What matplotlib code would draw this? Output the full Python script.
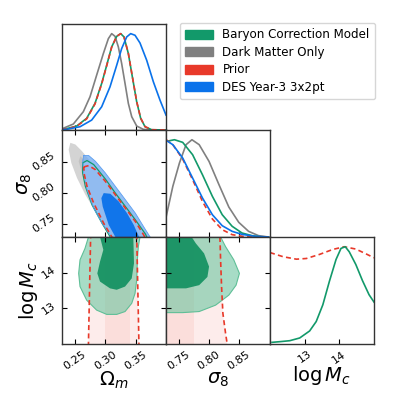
import matplotlib.pyplot as plt
from matplotlib.patches import Patch

# legend labels and colours
labels = ["Baryon Correction Model", "Dark Matter Only", "Prior", "DES Year-3 3x2pt"]
c_green, c_gray, c_red, c_blue = "#12996a", "#808080", "#e8392a", "#0a72ea"

# axis ranges / ticks
om_lim = (0.2293, 0.3989)
s8_lim = (0.7290, 0.9010)
mc_lim = (12.0, 15.0)
om_ticks = [0.25, 0.30, 0.35]
om_ticklabels = ["0.25", "0.30", "0.35"]
s8_ticks = [0.75, 0.80, 0.85]
s8_ticklabels = ["0.75", "0.80", "0.85"]
mc_ticks = [13, 14]
mc_ticklabels = ["13", "14"]

# 1D marginals: Omega_m
om_x_gray = [0.2298, 0.2478, 0.2641, 0.2750, 0.2858, 0.2967, 0.3049, 0.3103, 0.3158, 0.3212,
             0.3266, 0.3321, 0.3375, 0.3430, 0.3511, 0.3620, 0.3783, 0.3989]
om_p_gray = [0.014, 0.062, 0.190, 0.345, 0.569, 0.793, 0.948, 1.000, 0.972, 0.862,
             0.690, 0.483, 0.276, 0.138, 0.041, 0.007, 0.0, 0.0]
om_x_green = [0.2293, 0.2369, 0.2532, 0.2695, 0.2831, 0.2940, 0.3022, 0.3103, 0.3185, 0.3250,
              0.3304, 0.3375, 0.3440, 0.3511, 0.3576, 0.3647, 0.3755, 0.3989]
om_p_green = [0.008, 0.014, 0.041, 0.121, 0.276, 0.483, 0.672, 0.862, 0.972, 1.000,
              0.966, 0.793, 0.552, 0.293, 0.121, 0.034, 0.003, 0.0]
om_x_red = [0.2293, 0.2369, 0.2532, 0.2695, 0.2831, 0.2940, 0.3022, 0.3103, 0.3185, 0.3250,
            0.3304, 0.3375, 0.3440, 0.3511, 0.3576, 0.3647, 0.3755, 0.3989]
om_p_red = [0.006, 0.012, 0.038, 0.115, 0.270, 0.478, 0.668, 0.860, 0.972, 1.000,
            0.966, 0.795, 0.556, 0.296, 0.123, 0.035, 0.003, 0.0]
om_x_blue = [0.2293, 0.2369, 0.2587, 0.2777, 0.2940, 0.3076, 0.3185, 0.3266, 0.3348, 0.3413,
             0.3484, 0.3565, 0.3674, 0.3783, 0.3891, 0.3989]
om_p_blue = [0.004, 0.007, 0.034, 0.103, 0.241, 0.448, 0.672, 0.845, 0.966, 1.000,
             0.983, 0.903, 0.724, 0.500, 0.310, 0.155]

# 1D marginals: sigma_8
s8_x_gray = [0.7294, 0.7403, 0.7512, 0.7621, 0.7719, 0.7839, 0.8002, 0.8166, 0.8329, 0.8493,
             0.8656, 0.8820, 0.8983]
s8_p_gray = [0.212, 0.521, 0.760, 0.949, 1.000, 0.949, 0.777, 0.538, 0.308, 0.151,
             0.058, 0.014, 0.0]
s8_x_green = [0.7294, 0.7430, 0.7566, 0.7730, 0.7893, 0.8057, 0.8220, 0.8384, 0.8547, 0.8711,
              0.8874, 0.8983]
s8_p_green = [0.983, 1.000, 0.973, 0.846, 0.640, 0.418, 0.229, 0.110, 0.041, 0.014, 0.0, 0.0]
s8_x_blue = [0.7294, 0.7403, 0.7566, 0.7730, 0.7893, 0.8057, 0.8220, 0.8384, 0.8547, 0.8765,
             0.8983]
s8_p_blue = [0.993, 0.949, 0.812, 0.606, 0.401, 0.229, 0.116, 0.058, 0.027, 0.007, 0.0]
s8_x_red = [0.7294, 0.7403, 0.7566, 0.7730, 0.7893, 0.8057, 0.8220, 0.8384, 0.8602, 0.8983]
s8_p_red = [1.000, 0.949, 0.801, 0.589, 0.366, 0.185, 0.075, 0.024, 0.003, 0.0]

# 1D marginals: log M_c
mc_x_green = [12.057, 12.286, 12.571, 12.857, 13.143, 13.333, 13.524, 13.714, 13.905, 14.048,
              14.171, 14.286, 14.476, 14.667, 14.857, 15.0]
mc_p_green = [0.017, 0.024, 0.034, 0.062, 0.134, 0.231, 0.403, 0.645, 0.869, 0.983,
              1.000, 0.948, 0.817, 0.652, 0.507, 0.431]
mc_x_red = [12.0, 12.381, 12.762, 13.048, 13.429, 13.810, 14.143, 14.476, 14.762, 15.0]
mc_p_red = [0.940, 0.897, 0.872, 0.879, 0.921, 0.972, 1.000, 0.976, 0.928, 0.886]

# 2D contours Omega_m - sigma_8 (outline points)
os_gray_out = [(0.2429, 0.8804), (0.2511, 0.8777), (0.2619, 0.8670), (0.2755, 0.8508), (0.2919, 0.8292),
               (0.3110, 0.8050), (0.3300, 0.7807), (0.3490, 0.7565), (0.3653, 0.7349), (0.3718, 0.7241),
               (0.3163, 0.7241), (0.3000, 0.7457), (0.2837, 0.7700), (0.2674, 0.7969), (0.2538, 0.8238),
               (0.2445, 0.8481), (0.2402, 0.8697)]
os_gray_in = [(0.2592, 0.8589), (0.2783, 0.8400), (0.3055, 0.8050), (0.3327, 0.7700), (0.3517, 0.7403),
              (0.3571, 0.7241), (0.3245, 0.7241), (0.3000, 0.7565), (0.2783, 0.7942), (0.2619, 0.8319),
              (0.2565, 0.8508)]
os_green_out = [(0.2630, 0.8481), (0.2701, 0.8519), (0.2810, 0.8454), (0.3000, 0.8222), (0.3163, 0.7996),
                (0.3327, 0.7780), (0.3490, 0.7565), (0.3653, 0.7338), (0.3697, 0.7241), (0.3109, 0.7241),
                (0.2946, 0.7511), (0.2783, 0.7807), (0.2674, 0.8104), (0.2630, 0.8319)]
os_red_out = [(0.2647, 0.8416), (0.2728, 0.8438), (0.2837, 0.8373), (0.3000, 0.8185), (0.3163, 0.7969),
              (0.3327, 0.7753), (0.3490, 0.7538), (0.3626, 0.7322), (0.3664, 0.7241), (0.3136, 0.7241),
              (0.2973, 0.7511), (0.2810, 0.7834), (0.2701, 0.8104), (0.2657, 0.8292)]
os_blue_out = [(0.2647, 0.8600), (0.2728, 0.8600), (0.2837, 0.8508), (0.3000, 0.8319), (0.3163, 0.8104),
               (0.3327, 0.7888), (0.3490, 0.7672), (0.3653, 0.7410), (0.3762, 0.7241), (0.3136, 0.7241),
               (0.2946, 0.7511), (0.2810, 0.7753), (0.2701, 0.8050), (0.2647, 0.8319), (0.2630, 0.8508)]
os_blue_in = [(0.2973, 0.7996), (0.3082, 0.7985), (0.3218, 0.7861), (0.3354, 0.7672), (0.3463, 0.7484),
              (0.3571, 0.7241), (0.3191, 0.7241), (0.3055, 0.7484), (0.2957, 0.7780), (0.2935, 0.7915)]

# 2D contours Omega_m - log M_c
om_green_out = [(0.2723, 15.1), (0.2723, 14.99), (0.2668, 14.68), (0.2587, 14.36), (0.2565, 13.98),
                (0.2587, 13.61), (0.2695, 13.23), (0.2858, 12.95), (0.3022, 12.83), (0.3185, 12.83),
                (0.3321, 12.91), (0.3430, 13.14), (0.3484, 13.42), (0.3511, 13.79), (0.3522, 14.36),
                (0.3538, 14.73), (0.3565, 15.0), (0.3565, 15.1)]
om_green_in = [(0.2913, 15.1), (0.2913, 15.0), (0.2967, 14.64), (0.2913, 14.31), (0.2869, 13.98),
               (0.2913, 13.75), (0.3076, 13.56), (0.3185, 13.52), (0.3321, 13.61), (0.3430, 13.84),
               (0.3467, 14.26), (0.3456, 15.0), (0.3456, 15.1)]
om_red_out = [(0.2761, 15.1), (0.2723, 11.9), (0.3549, 11.9), (0.3511, 15.1)]
om_red_in = [(0.2994, 15.1), (0.2994, 11.9), (0.3402, 11.9), (0.3402, 15.1)]

# 2D contours sigma_8 - log M_c
sm_green_out = [(0.72, 15.1), (0.8193, 15.1), (0.8193, 15.0), (0.8275, 14.73), (0.8411, 14.36),
                (0.8504, 13.98), (0.8449, 13.65), (0.8329, 13.37), (0.8111, 13.09), (0.7839, 12.91),
                (0.7566, 12.88), (0.72, 12.88)]
sm_green_in = [(0.72, 15.1), (0.7675, 15.1), (0.7784, 14.82), (0.7920, 14.54), (0.8002, 14.17),
               (0.7975, 13.88), (0.7839, 13.65), (0.7621, 13.56), (0.72, 13.56)]
sm_red_out = [(0.72, 15.1), (0.8182, 15.1), (0.8182, 15.0), (0.8193, 14.36), (0.8209, 13.61),
              (0.8231, 12.86), (0.8275, 12.30), (0.8302, 12.0), (0.8310, 11.9), (0.72, 11.9)]
sm_red_in = [(0.72, 15.1), (0.7757, 15.1), (0.7757, 11.9), (0.72, 11.9)]


def xy(pts):
    return [p[0] for p in pts], [p[1] for p in pts]


def contour(ax, pts, face, edge=None, ls="-", lw=0.8, alpha=1.0):
    x, y = xy(pts)
    ax.fill(x, y, color=face, lw=0, alpha=alpha)
    if edge is not None:
        ax.plot(x + [x[0]], y + [y[0]], color=edge, ls=ls, lw=lw)


fig = plt.figure(figsize=(3.99, 3.99), dpi=100)
L = [62 / 399, 166 / 399, 270 / 399]
B = [1 - 130 / 399, 1 - 237 / 399, 1 - 344 / 399]
W = 104 / 399
H = [106 / 399, 107 / 399, 107 / 399]

ax_om = fig.add_axes([L[0], B[0], W, H[0]])
ax_os = fig.add_axes([L[0], B[1], W, H[1]])
ax_s8 = fig.add_axes([L[1], B[1], W, H[1]])
ax_om_mc = fig.add_axes([L[0], B[2], W, H[2]])
ax_s8_mc = fig.add_axes([L[1], B[2], W, H[2]])
ax_mc = fig.add_axes([L[2], B[2], W, H[2]])

# 1D panels
ax_om.plot(om_x_gray, om_p_gray, color=c_gray, lw=1.2)
ax_om.plot(om_x_green, om_p_green, color=c_green, lw=1.2)
ax_om.plot(om_x_red, om_p_red, color=c_red, lw=1.2, ls=(0, (3, 2)))
ax_om.plot(om_x_blue, om_p_blue, color=c_blue, lw=1.2)
ax_om.set_xlim(om_lim)

ax_s8.plot(s8_x_gray, s8_p_gray, color=c_gray, lw=1.2)
ax_s8.plot(s8_x_green, s8_p_green, color=c_green, lw=1.2)
ax_s8.plot(s8_x_red, s8_p_red, color=c_red, lw=1.2, ls=(0, (3, 2)))
ax_s8.plot(s8_x_blue, s8_p_blue, color=c_blue, lw=1.2)
ax_s8.set_xlim(s8_lim)

ax_mc.plot(mc_x_red, mc_p_red, color=c_red, lw=1.2, ls=(0, (3, 2)))
ax_mc.plot(mc_x_green, mc_p_green, color=c_green, lw=1.2)
ax_mc.set_xlim(mc_lim)

for ax in [ax_om, ax_s8, ax_mc]:
    ax.set_ylim(0, 1.1)
    ax.set_yticks([])

# Omega_m - sigma_8
contour(ax_os, os_gray_out, "#d4d4d4")
contour(ax_os, os_gray_in, "#c2c2c2")
contour(ax_os, os_green_out, "#ffffff", edge=c_green, lw=0.9)
contour(ax_os, os_red_out, "#fbe3e0", alpha=0.6)
contour(ax_os, os_blue_out, "#6eaaf2", edge="#5c9ef0", alpha=0.75, lw=0.6)
contour(ax_os, os_blue_in, c_blue, alpha=0.95)
x, y = xy(os_red_out)
ax_os.plot(x + [x[0]], y + [y[0]], color=c_red, ls=(0, (3, 2)), lw=1.2)
ax_os.set_xlim(om_lim)
ax_os.set_ylim(s8_lim)

# Omega_m - log M_c
contour(ax_om_mc, om_red_out, "#fdeceb")
contour(ax_om_mc, om_red_in, "#fbdedb")
contour(ax_om_mc, om_green_out, "#6cc6a0", edge="#5fbf97", alpha=0.6, lw=0.8)
contour(ax_om_mc, om_green_in, "#0f8f5e", alpha=0.9)
ax_om_mc.plot([om_red_out[0][0], om_red_out[1][0]], [om_red_out[0][1], om_red_out[1][1]],
              color=c_red, ls=(0, (3, 2)), lw=1.2)
ax_om_mc.plot([om_red_out[2][0], om_red_out[3][0]], [om_red_out[2][1], om_red_out[3][1]],
              color=c_red, ls=(0, (3, 2)), lw=1.2)
ax_om_mc.set_xlim(om_lim)
ax_om_mc.set_ylim(mc_lim)

# sigma_8 - log M_c
contour(ax_s8_mc, sm_red_out, "#fdeceb")
contour(ax_s8_mc, sm_red_in, "#fbdedb")
contour(ax_s8_mc, sm_green_out, "#6cc6a0", edge="#5fbf97", alpha=0.6, lw=0.8)
contour(ax_s8_mc, sm_green_in, "#0f8f5e", alpha=0.9)
x, y = xy(sm_red_out[2:9])
ax_s8_mc.plot(x, y, color=c_red, ls=(0, (3, 2)), lw=1.2)
ax_s8_mc.set_xlim(s8_lim)
ax_s8_mc.set_ylim(mc_lim)

# ticks
for ax in [ax_os, ax_om_mc, ax_s8_mc]:
    ax.tick_params(direction="in", top=True, right=True, length=3.5, width=0.8, labelsize=8)
for ax in [ax_om, ax_s8, ax_mc]:
    ax.tick_params(direction="in", length=3.5, width=0.8, labelsize=8)

for ax in [ax_om, ax_os, ax_om_mc]:
    ax.set_xticks(om_ticks)
for ax in [ax_s8, ax_s8_mc]:
    ax.set_xticks(s8_ticks)
ax_mc.set_xticks(mc_ticks)
ax_os.set_yticks(s8_ticks)
ax_om_mc.set_yticks(mc_ticks)
ax_s8_mc.set_yticks(mc_ticks)

for ax in [ax_om, ax_os, ax_s8]:
    ax.set_xticklabels([])
ax_s8_mc.set_yticklabels([])

ax_om_mc.set_xticklabels(om_ticklabels, rotation=35)
ax_s8_mc.set_xticklabels(s8_ticklabels, rotation=35)
ax_mc.set_xticklabels(mc_ticklabels, rotation=35)
ax_os.set_yticklabels(s8_ticklabels, rotation=35, va="center")
ax_om_mc.set_yticklabels(mc_ticklabels, rotation=35, va="center")

ax_om_mc.set_xlabel(r"$\Omega_m$", fontsize=14, labelpad=-1)
ax_s8_mc.set_xlabel(r"$\sigma_8$", fontsize=14, labelpad=-1)
ax_mc.set_xlabel(r"$\log M_c$", fontsize=14, labelpad=-1)
ax_os.set_ylabel(r"$\sigma_8$", fontsize=14, labelpad=-2)
ax_om_mc.set_ylabel(r"$\log M_c$", fontsize=14, labelpad=0)

for ax in fig.axes:
    for s in ax.spines.values():
        s.set_color("#333333")
        s.set_linewidth(1.0)

handles = [Patch(color=c) for c in [c_green, c_gray, c_red, c_blue]]
fig.legend(handles, labels, loc="upper right", bbox_to_anchor=(375 / 399, 1 - 23 / 399),
           borderaxespad=0, fontsize=8.6, handlelength=2.3, handleheight=0.8, borderpad=0.45,
           labelspacing=0.38, handletextpad=0.8, edgecolor="#cccccc")

fig.savefig("out.png", dpi=100)
